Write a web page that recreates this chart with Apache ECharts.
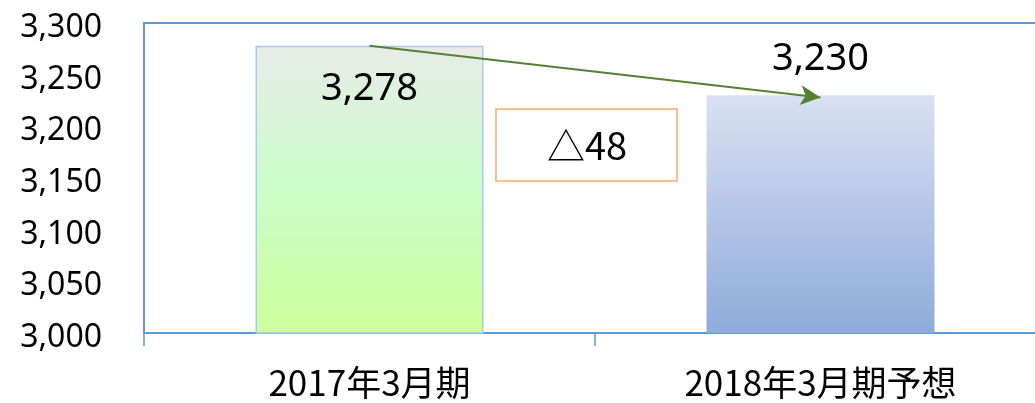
<!DOCTYPE html>
<html><head><meta charset="utf-8">
<script src="https://cdn.jsdelivr.net/npm/echarts@6/dist/echarts.min.js"></script>
<style>html,body{margin:0;padding:0;background:#fff}#c{width:1035px;height:403px}</style>
</head><body><div id="c"></div>
<script>
const categories = ['2017年3月期', '2018年3月期予想'];
const values = [3278, 3230];
const yTicks = [3000, 3050, 3100, 3150, 3200, 3250, 3300];
const fmt = v => v.toLocaleString('en-US');
const chart = echarts.init(document.getElementById('c'));
const font = "'Noto Sans CJK JP','Noto Sans',sans-serif";
chart.setOption({
  animation: false,
  grid: {left: 144, width: 902, top: 23, bottom: 70, outerBoundsMode: 'none', containLabel: false, show: true, borderColor: '#5b9bd5', borderWidth: 2, backgroundColor: 'transparent'},
  xAxis: {
    type: 'category', data: categories,
    axisLine: {lineStyle: {color: '#5b9bd5', width: 2}},
    axisTick: {show: true, length: 13, lineStyle: {color: '#5b9bd5', width: 1.5}},
    axisLabel: {color: '#000', fontSize: 35, fontFamily: font, margin: 32}
  },
  yAxis: {
    type: 'value', min: yTicks[0], max: yTicks[yTicks.length - 1], interval: 50,
    axisLine: {show: true, lineStyle: {color: '#5b9bd5', width: 2}},
    axisTick: {show: false},
    splitLine: {show: false},
    axisLabel: {color: '#000', fontSize: 32, fontFamily: "'Noto Sans',sans-serif", margin: 42,
      formatter: v => '{a|' + fmt(v) + '}',
      rich: {a: {fontSize: 32, fontFamily: "'Noto Sans',sans-serif", color: '#000', padding: [10, 0, 0, 0]}}}
  },
  series: [{
    type: 'bar', barWidth: 228,
    data: [
      {value: values[0],
       itemStyle: {borderColor: '#a8c8f4', borderWidth: 1.5,
         color: new echarts.graphic.LinearGradient(0, 0, 0, 1, [
           {offset: 0, color: '#e8ebe8'}, {offset: 0.45, color: '#ccfccc'}, {offset: 1, color: '#ccff99'}])},
       label: {show: true, position: 'insideTop', distance: 24}},
      {value: values[1],
       itemStyle: {color: new echarts.graphic.LinearGradient(0, 0, 0, 1, [
           {offset: 0, color: '#d9e1f2'}, {offset: 1, color: '#8eabdb'}])},
       label: {show: true, position: 'top', distance: 17}}
    ],
    label: {color: '#000', fontSize: 38, fontFamily: "'Noto Sans',sans-serif", formatter: p => fmt(p.value)},
    markLine: {
      silent: true, symbol: ['none', 'arrow'], symbolSize: [15, 20],
      lineStyle: {color: '#548235', width: 2, type: 'solid'},
      label: {show: false},
      data: [[{coord: [categories[0], values[0]]}, {coord: [categories[1], values[1] - 2]}]]
    }
  }],
  graphic: [{
    type: 'group', left: 495, top: 108,
    children: [
      {type: 'rect', shape: {x: 0, y: 0, width: 181, height: 72}, style: {fill: '#fff', stroke: '#f8c08f', lineWidth: 2}},
      {type: 'text', x: 91, y: 37, style: {text: '△' + (values[0] - values[1]), fill: '#000', font: "38px 'Noto Sans CJK JP','Noto Sans',sans-serif", align: 'center', verticalAlign: 'middle'}}
    ]
  }]
});
</script></body></html>
